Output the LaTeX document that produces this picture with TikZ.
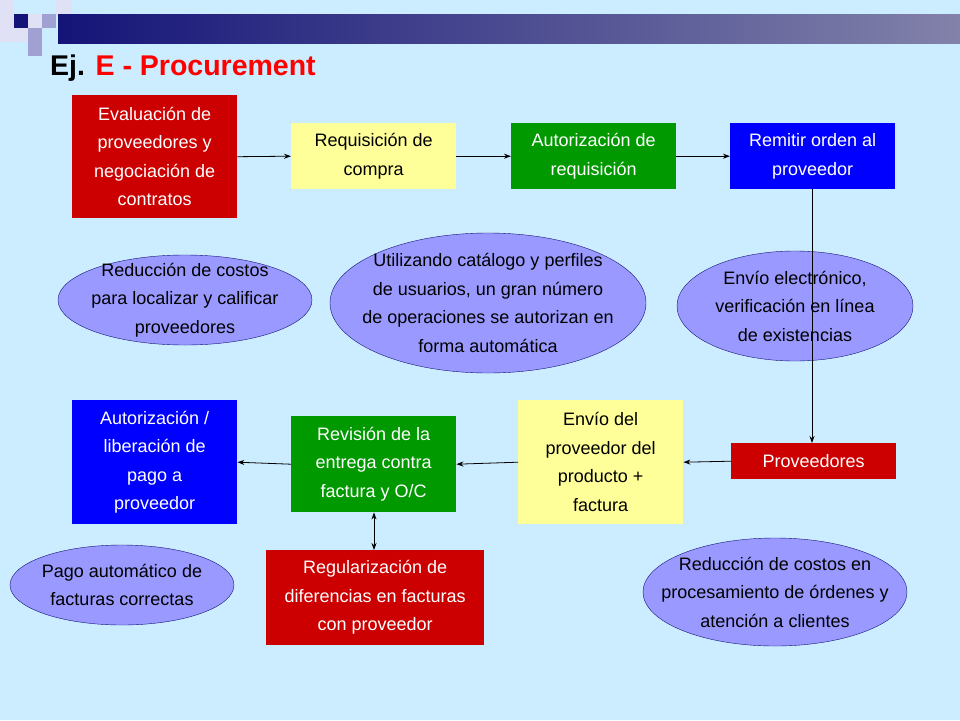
\documentclass[tikz,border=0pt]{standalone}
\usepackage{fontspec}
\setmainfont{Liberation Sans}
\usetikzlibrary{shapes.geometric,arrows.meta}
\definecolor{bg}{RGB}{204,236,255}
\definecolor{bred}{RGB}{204,0,0}
\definecolor{byel}{RGB}{255,255,153}
\definecolor{bgreen}{RGB}{0,153,0}
\definecolor{bblue}{RGB}{0,0,255}
\definecolor{ell}{RGB}{153,153,255}
\definecolor{navy}{RGB}{20,20,120}
\definecolor{lav}{RGB}{160,160,210}
\definecolor{lavl}{RGB}{225,225,245}
\begin{document}
\begin{tikzpicture}[x=1pt,y=-1pt,
  box/.style={draw=none,minimum width=165pt,align=center,font=\fontsize{18}{28.5}\selectfont,anchor=north west,inner sep=2pt},
  elli/.style={ellipse,draw=navy,fill=ell,inner sep=0pt},
  etext/.style={align=center,font=\fontsize{18}{28.5}\selectfont,inner sep=0pt},
  arr/.style={-{Stealth[length=7pt,width=5pt]},black,line width=0.8pt}]
\fill[bg] (0,0) rectangle (960,720);
\useasboundingbox (0,0) rectangle (960,720);
\shade[left color=navy,right color={rgb,255:red,130;green,130;blue,170}] (58,14) rectangle (960,43);
\fill[lavl] (0,0) rectangle (14,42);
\fill[navy] (14,14) rectangle (28,28);
\fill[lavl] (28,14) rectangle (42,28);
\fill[lav] (42,14) rectangle (56,28);
\fill[lavl] (56,0) rectangle (72,14);
\fill[lavl] (14,28) rectangle (28,42);
\fill[lav] (28,28) rectangle (42,42);
\fill[lav] (28,42) rectangle (42,56);
\node[anchor=base west,font=\fontsize{28.5}{32}\selectfont\bfseries,inner sep=0pt] (title) at (50,75) {Ej. \textcolor{red}{E - Procurement}};
% top row
\node[box,fill=bred,text=white,minimum height=123pt] (r1) at (72,95) {Evaluación de\\proveedores y\\negociación de\\contratos};
\node[box,fill=byel,minimum height=66pt] (y1) at (291,123) {Requisición de\\compra};
\node[box,fill=bgreen,text=white,minimum height=66pt] (g1) at (511,123) {Autorización de\\requisición};
\node[box,fill=bblue,text=white,minimum height=66pt] (b1) at (730,123) {Remitir orden al\\proveedor};
% ellipses
\node[elli,minimum width=254pt,minimum height=90pt] (e1) at (185,300) {};
\node[etext] (t1) at (e1.center) {Reducción de costos\\para localizar y calificar\\proveedores};
\node[elli,minimum width=316pt,minimum height=140pt] (e2) at (488,303) {};
\node[etext] (t2) at (e2.center) {Utilizando catálogo y perfiles\\de usuarios, un gran número\\de operaciones se autorizan en\\forma automática};
\node[elli,minimum width=236pt,minimum height=110pt] (e3) at (795,306) {};
\node[etext] (t3) at (e3.center) {Envío electrónico,\\verificación en línea\\de existencias};
% bottom row
\node[box,fill=bred,text=white,minimum height=36pt] (pr) at (731,443) {Proveedores};
\node[box,fill=byel,minimum height=124pt] (y2) at (518,400) {Envío del\\proveedor del\\producto +\\factura};
\node[box,fill=bgreen,text=white,minimum height=96pt] (g2) at (291,416) {Revisión de la\\entrega contra\\factura y O/C};
\node[box,fill=bblue,text=white,minimum height=124pt] (b2) at (72,400) {Autorización /\\liberación de\\pago a\\proveedor};
\node[elli,minimum width=224pt,minimum height=80pt] (e4) at (122,585) {};
\node[etext] (t4) at (e4.center) {Pago automático de\\facturas correctas};
\node[box,fill=bred,text=white,minimum width=218pt,minimum height=95pt] (r2) at (266,550) {Regularización de\\diferencias en facturas\\con proveedor};
\node[elli,minimum width=264pt,minimum height=108pt] (e5) at (775,592) {};
\node[etext] (t5) at (e5.center) {Reducción de costos en\\procesamiento de órdenes y\\atención a clientes};
% arrows
\draw[arr] (r1.east) -- (y1.west);
\draw[arr] (y1.east) -- (g1.west);
\draw[arr] (g1.east) -- (b1.west);
\draw[arr] (b1.south -| 812,0) -- (pr.north -| 812,0);
\draw[arr] (pr.west) -- (y2.west -| y2.east);
\draw[arr] (y2.west) -- (g2.east);
\draw[arr] (g2.west) -- (b2.east);
\draw[{Stealth[length=7pt,width=5pt]}-{Stealth[length=7pt,width=5pt]},line width=0.8pt] (g2.south -| 374,0) -- (r2.north -| 374,0);
\end{tikzpicture}
\end{document}
